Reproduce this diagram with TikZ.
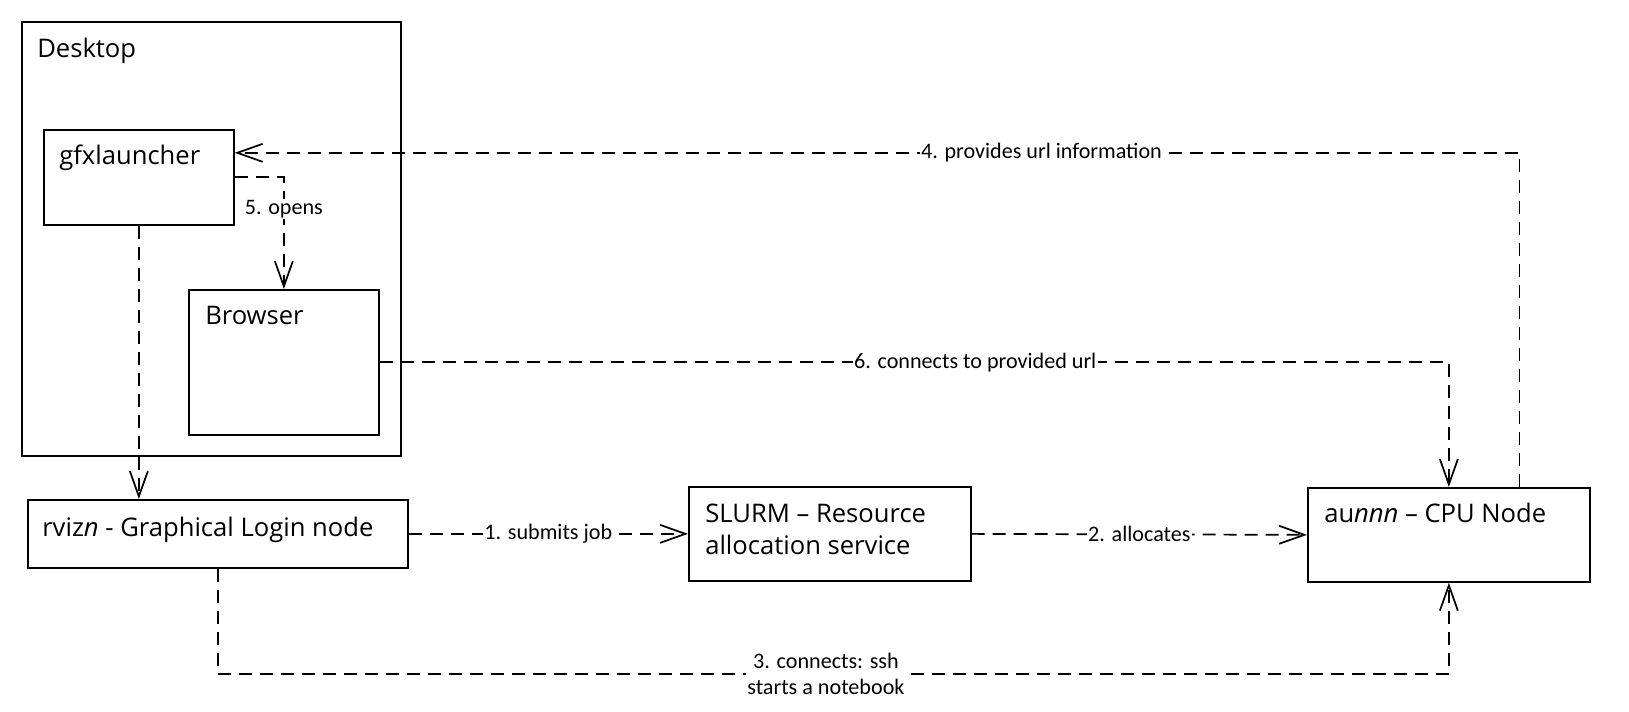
\documentclass[tikz,border=0pt]{standalone}
\usepackage{fontspec}
\setmainfont{Open Sans}
\newfontfamily\lblfont{Carlito}
\usetikzlibrary{positioning,arrows.meta}

\begin{document}
\begin{tikzpicture}[
	x=0.75pt, y=-0.75pt,
	box/.style={
		draw, line width=1.3pt, anchor=north west, inner sep=0pt
	},
	boxtext/.style={
		anchor=base west, inner sep=0pt, align=left,
		font=\fontsize{19.2}{24}\selectfont
	},
	conn/.style={
		line width=1.3pt, dash pattern=on 9.75pt off 6pt,
		-{Straight Barb[length=19pt,width=13.5pt]}
	},
	lbl/.style={
		fill=white, inner sep=1pt, align=center,
		font=\lblfont\fontsize{16.6}{19}\selectfont
	}
	]
	\useasboundingbox (0,0) rectangle (1629,712);
	
	% boxes
	\node[box, minimum width=284.25pt, minimum height=325.5pt] (desk) at (21,21) {};
	\node[box, minimum width=142.5pt, minimum height=71.25pt] (gfx) at (43,129) {};
	\node[box, minimum width=142.5pt, minimum height=108.75pt] (brow) at (188,289) {};
	\node[box, minimum width=285pt, minimum height=51pt] (rviz) at (27,499) {};
	\node[box, minimum width=211.5pt, minimum height=70.5pt] (slurm) at (688,486) {};
	\node[box, minimum width=211.5pt, minimum height=70.5pt] (cpu) at (1307,487) {};
	
	% box titles (base = last line)
	\node[boxtext] (desk-t) at ([shift={(12pt,-27.75pt)}]desk.north west) {Desktop};
	\node[boxtext] (gfx-t) at ([shift={(12pt,-27pt)}]gfx.north west) {gfxlauncher};
	\node[boxtext] (brow-t) at ([shift={(12.75pt,-27pt)}]brow.north west) {Browser};
	\node[boxtext] (rviz-t) at ([shift={(11.25pt,-28.5pt)}]rviz.north west) {rviz\textit{n} - Graphical Login node};
	\node[boxtext] (slurm-t) at ([shift={(12.75pt,-51.75pt)}]slurm.north west) {SLURM -- Resource\\allocation service};
	\node[boxtext] (cpu-t) at ([shift={(12.75pt,-27pt)}]cpu.north west) {au\textit{nnn} -- CPU Node};
	
	% connectors
	\draw[conn] (gfx.south) -- (gfx.south |- rviz.north);
	\draw[conn] (rviz.east) -- node[lbl] {1. submits job} (slurm.west);
	\draw[conn] (slurm.east) -- node[lbl] {2. allocates} (cpu.west);
	\draw[conn] (rviz.south) -- ++(0,105) -| node[lbl, pos=0.247] {3. connects: ssh\\starts a notebook} (cpu.south);
	\draw[conn] ([xshift=52.9pt]cpu.north) |- node[lbl, pos=0.686] {4. provides url information} ([yshift=18.4pt]gfx.east);
	\draw[conn] (gfx.east) -| node[lbl, pos=0.641] {5. opens} (brow.north);
	\draw[conn] (brow.east) -| node[lbl, pos=0.2785] {6. connects to provided url} (cpu.north);
\end{tikzpicture}
\end{document}
